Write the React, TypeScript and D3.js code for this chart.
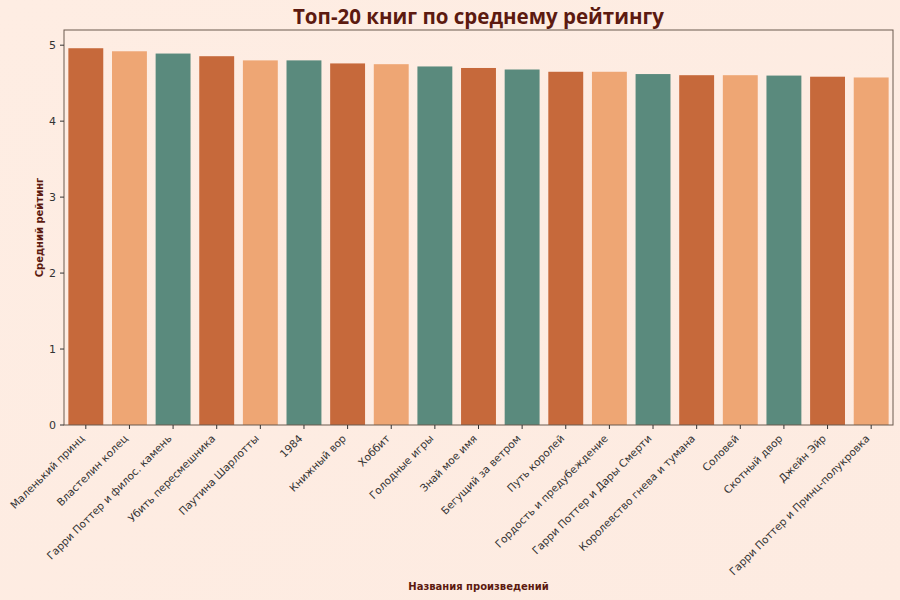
import React from "react";
import * as d3 from "d3";

const books = [
  "Маленький принц",
  "Властелин колец",
  "Гарри Поттер и филос. камень",
  "Убить пересмешника",
  "Паутина Шарлотты",
  "1984",
  "Книжный вор",
  "Хоббит",
  "Голодные игры",
  "Знай мое имя",
  "Бегущий за ветром",
  "Путь королей",
  "Гордость и предубеждение",
  "Гарри Поттер и Дары Смерти",
  "Королевство гнева и тумана",
  "Соловей",
  "Скотный двор",
  "Джейн Эйр",
  "Гарри Поттер и Принц-полукровка",
];
const ratings = [4.96, 4.92, 4.89, 4.855, 4.8, 4.8, 4.76, 4.75, 4.72, 4.7, 4.68, 4.65, 4.65, 4.62, 4.605, 4.605, 4.6, 4.585, 4.575];
const barColors = ["#C6693B", "#EEA674", "#5A8A7D", "#C6693B", "#EEA674", "#5A8A7D", "#C6693B", "#EEA674", "#5A8A7D", "#C6693B", "#5A8A7D", "#C6693B", "#EEA674", "#5A8A7D", "#C6693B", "#EEA674", "#5A8A7D", "#C6693B", "#EEA674"];
const yTicks = [0, 1, 2, 3, 4, 5];

const W = 900, H = 600;
const M = { left: 64, right: 893, top: 30, bottom: 425 };

export default function App() {
  const x = d3.scaleBand<string>().domain(books).range([M.left, M.right]).paddingInner(0.2).paddingOuter(0.1);
  const y = d3.scaleLinear().domain([0, 5.2]).range([M.bottom, M.top]);
  const dark = "#5C1A10";
  const tickColor = "#333";
  return (
    <div style={{ position: "fixed", left: 0, top: 0 }}>
      <svg width={W} height={H} style={{ display: "block", fontFamily: "'DejaVu Sans', sans-serif" }}>
        <defs>
          <linearGradient id="bg" x1="0" y1="0" x2="1" y2="1">
            <stop offset="0" stopColor="#FEEDE3" />
            <stop offset="1" stopColor="#FDEBE1" />
          </linearGradient>
        </defs>
        <rect width={W} height={H} fill="url(#bg)" />
        {books.map((b, i) => (
          <rect key={b} x={x(b)} y={y(ratings[i])} width={x.bandwidth()} height={y(0) - y(ratings[i])} fill={barColors[i]} />
        ))}
        <rect x={M.left} y={M.top} width={M.right - M.left} height={M.bottom - M.top} fill="none" stroke="#6b5a4e" strokeWidth={1} />
        {yTicks.map((t) => (
          <g key={t} transform={`translate(${M.left},${y(t)})`}>
            <line x1={-4} x2={0} stroke="#333" />
            <text x={-8} dy="0.35em" textAnchor="end" fontSize={11} fill={tickColor}>{t}</text>
          </g>
        ))}
        {books.map((b) => {
          const cx = (x(b) as number) + x.bandwidth() / 2;
          return (
            <g key={b}>
              <line x1={cx} x2={cx} y1={M.bottom} y2={M.bottom + 4} stroke="#333" />
              <text transform={`translate(${cx - 3},${M.bottom + 12}) rotate(-45)`} textAnchor="end" dy="0.3em" fontSize={10.5} fill={tickColor}>{b}</text>
            </g>
          );
        })}
        <text x={(M.left + M.right) / 2} y={24} textAnchor="middle" fontSize={20.5} fontWeight="bold" fill={dark} fontFamily="'Open Sans', sans-serif">Топ-20 книг по среднему рейтингу</text>
        <text transform={`translate(43,${(M.top + M.bottom) / 2}) rotate(-90)`} textAnchor="middle" fontSize={10} fontWeight="bold" fill={dark}>Средний рейтинг</text>
        <text x={(M.left + M.right) / 2} y={590} textAnchor="middle" fontSize={10} fontWeight="bold" fill={dark}>Названия произведений</text>
      </svg>
    </div>
  );
}
